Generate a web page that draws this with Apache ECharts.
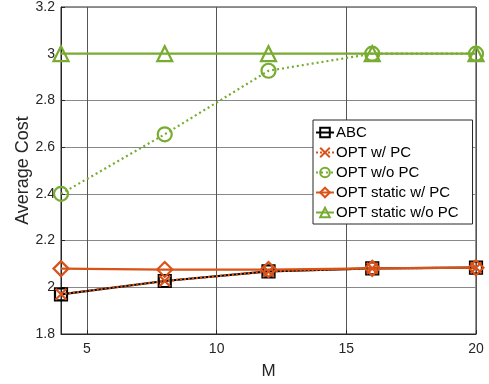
<!DOCTYPE html>
<html><head><meta charset="utf-8">
<script src="https://cdn.jsdelivr.net/npm/echarts@6/dist/echarts.min.js"></script>
<style>html,body{margin:0;padding:0;background:#fff}#c{width:489px;height:384px}</style>
</head><body><div id="c"></div>
<script>
const M = [4, 8, 12, 16, 20];
const abc = [1.97, 2.027, 2.068, 2.081, 2.084];
const optPC = [1.97, 2.027, 2.068, 2.081, 2.084];
const optNoPC = [2.40, 2.655, 2.927, 3.0, 3.0];
const staticPC = [2.08, 2.076, 2.076, 2.081, 2.084];
const staticNoPC = [3.0, 3.0, 3.0, 3.0, 3.0];
const xTicks = [5, 10, 15, 20];
const names = ['ABC', 'OPT w/ PC', 'OPT w/o PC', 'OPT static w/ PC', 'OPT static w/o PC'];

const ORANGE = '#D95319', GREEN = '#77AC30';
const xSym = 'path://M0,0L10,10M10,0L0,10';
function pts(arr) { return M.map((m, i) => [m, arr[i]]); }
function ser(name, data, color, symbol, size, lineType, z) {
  return {
    name, type: 'line', data: pts(data), symbol, symbolSize: size, z,
    showAllSymbol: true,
    lineStyle: { color, width: 2.2, type: lineType },
    itemStyle: { color: 'none', borderColor: color, borderWidth: 2.2 },
    emphasis: { disabled: true }, animation: false
  };
}
const chart = echarts.init(document.getElementById('c'));
chart.setOption({
  animation: false,
  textStyle: { fontFamily: 'Liberation Sans, Arial, sans-serif' },
  grid: { left: 61, right: 13, top: 7, bottom: 50, outerBoundsMode: 'none', containLabel: false,
          show: true, borderColor: '#262626', borderWidth: 1 },
  xAxis: {
    type: 'value', min: 4, max: 20,
    name: 'M', nameLocation: 'middle', nameGap: 29, nameMoveOverlap: false,
    nameTextStyle: { fontSize: 17, color: '#262626' },
    axisLine: { lineStyle: { color: '#262626' } },
    axisTick: { show: true, inside: true, length: 4, customValues: xTicks, lineStyle: { color: '#262626' } },
    axisLabel: { customValues: xTicks, fontSize: 14, color: '#262626', margin: 8 },
    splitLine: { show: true, lineStyle: { color: '#555', width: 1 } }
  },
  yAxis: {
    type: 'value', min: 1.8, max: 3.2, interval: 0.2,
    name: 'Average Cost', nameLocation: 'middle', nameGap: 29, nameMoveOverlap: false,
    nameTextStyle: { fontSize: 18, color: '#262626' },
    axisLine: { lineStyle: { color: '#262626' } },
    axisTick: { show: true, inside: true, length: 4, lineStyle: { color: '#262626' } },
    axisLabel: { fontSize: 14, color: '#262626', margin: 6, formatter: v => String(Math.round(v * 10) / 10) },
    splitLine: { show: true, lineStyle: { color: '#888', width: 1 } }
  },
  legend: {
    orient: 'vertical', left: 313, top: 120,
    data: names,
    itemWidth: 18, itemHeight: 12, itemGap: 5,
    padding: [5, 14, 4, 2],
    backgroundColor: '#fff', borderColor: '#262626', borderWidth: 1,
    textStyle: { fontSize: 15, color: '#000', lineHeight: 15, padding: [0, 0, 0, -3] }
  },
  series: [
    ser(names[0], abc, '#000', 'rect', 12, 'solid', 2),
    ser(names[1], optPC, ORANGE, xSym, 11, [2, 2], 3),
    ser(names[2], optNoPC, GREEN, 'circle', 14, [2, 3], 2),
    ser(names[3], staticPC, ORANGE, 'diamond', 15, 'solid', 2),
    ser(names[4], staticNoPC, GREEN, 'triangle', 15, 'solid', 2)
  ]
});
</script></body></html>
